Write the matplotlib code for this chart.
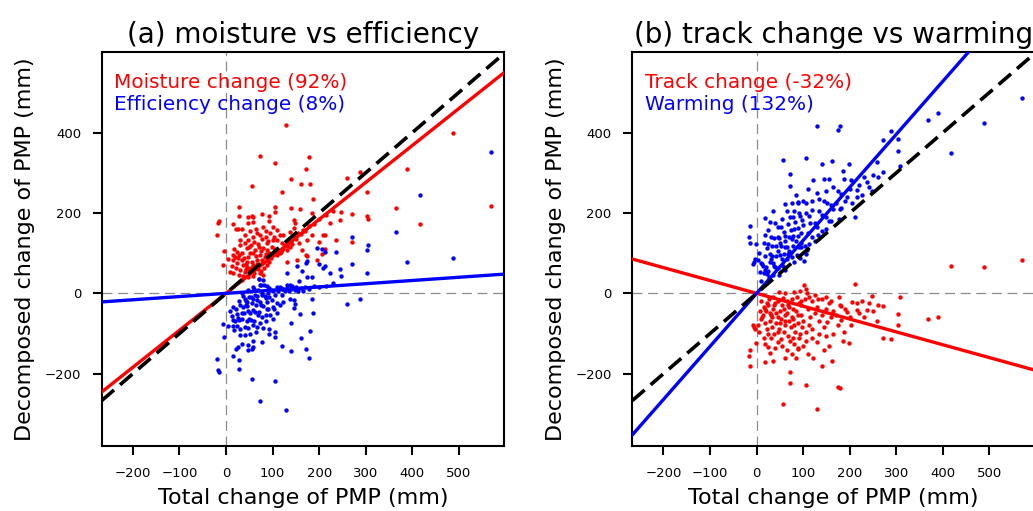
import numpy as np
import matplotlib
matplotlib.use("Agg")
import matplotlib.pyplot as plt

# ---------------- data ----------------
# Panel (a): total PMP change and its moisture component (efficiency = total - moisture)
total_a = [128, 487, 72, 179, 106, 171, 389, 288, 259, 140,
           180, 160, 55, 302, 120, 186, 570, 106, 28, 139,
           366, 158, 246, 106, 270, 185, 27, 55, 92, 302,
           305, 47, 77, -15, -18, 16, 417, 59, 92, 146,
           244, 224, 148, 79, 145, 26, 21, 138, 209, 213,
           184, -20, 59, 77, 30, 47, 100, 109, 236, 270,
           199, 156, 87, 120, 123, 138, 142, 70, 53,
           44, 23, -4, 112, 130, 171, 207, 86, 35, 59,
           48, 4, 152, 196, 96, 130, -6, 16, 24, 34,
           43, 55, 66, 77, 82, 22, 30, 41, 50, 61,
           72, 9, 16, 27, 37, 48, 59, 70, 80, 34,
           44, 62, 12, 73, 87, 98, 80, 109, 123, 66,
           41, 52, 174, 163, 174, 48, 57,
           20, 28, 38, 52, 64, 75, 83, 92, 100, 105,
           115, 18, 30, 40, 60, 68, 85, 95, 100, 36,
           46, 57, 68, 76, 88, 92, 26, 14, 62, 50,
           35, 65, 85, 72, 90, 102, 115, 126, 135, 148,
           110, 120, 132, 150, 160, 170, 190, 200, 215, 230,
           118, 140, 155, 165, 178, 42, 54, 66, 78, 90, 213]
moisture = [419, 399, 341, 339, 325, 310, 310, 301, 286, 284,
            273, 271, 267, 252, 252, 234, 218, 215, 216, 213,
            213, 209, 203, 203, 197, 199, 193, 193, 193, 193,
            184, 189, 198, 180, 174, 173, 173, 178, 180, 183,
            183, 174, 174, 166, 162, 160, 159, 152, 145, 145,
            144, 144, 139, 136, 134, 133, 133, 132, 132, 129,
            127, 126, 125, 125, 112, 116, 123, 116, 120,
            112, 104, 105, 105, 109, 95, 97, 97, 100, 100,
            91, 85, 83, 83, 87, 79, 71, 83, 76, 83,
            73, 79, 83, 75, 62, 62, 58, 54, 58, 51,
            50, 54, 50, 46, 43, 40, 42, 35, 46, 33,
            66, 66, 68, 95, 108, 115, 112, 157, 145, 149,
            145, 154, 133, 108, 93, 176, 191,
            90, 95, 88, 100, 92, 105, 90, 100, 95, 110,
            100, 110, 120, 125, 128, 122, 140, 150, 165, 70,
            78, 70, 60, 55, 70, 78, 88, 95, 108, 115,
            160, 160, 155, 145, 130, 140, 145, 120, 130, 140,
            95, 108, 118, 135, 147, 155, 172, 184, 196, 205,
            104, 128, 150, 158, 168, 60, 64, 72, 82, 88, 111]

# Panel (b): total PMP change and its track component (warming = total - track)
total_b = [570, 488, 418, 390, 368, 307, 303, 304, 289, 272,
           271, 259, 247, 242, 236, 226, 216, 216, 212, 205,
           203, 199, 186, 187, 181, 176, 181, 161, 140, 122,
           174, 180, 107, 72, 72, 57, 129, 36, 17, 29,
           24, 19, -1, -15, -17, -14, -7, 4, 52, 72,
           79, 88, 106, 102, 107, 94, 131, 180, 194, 89,
           -3, -5, 48, 60, 80, 109,
           10, 15, 20, 25, 30, 35, 40, 45, 50, 55,
           60, 65, 70, 75, 80, 85, 90, 95, 100, 110,
           115, 120, 125, 130, 140, 150, 155, 160, 165, 12,
           18, 22, 28, 33, 38, 42, 48, 53, 58, 62,
           68, 73, 78, 83, 88, 93, 98, 105, 112, 118,
           8, 14, 26, 36, 46, 56, 66, 76, 86, 96,
           104, 134, 145, 152, 170, 175, 190, 30, 45, 55,
           65, 40, 24, 16, 6, 10, 60, 70, 50, 42,
           32, 22, 95, 112, 125, 140, 150, 160, 120, 135,
           100, 90, 80, 75, 62, 85, 110, 150, 155, 46,
           58, 68, 78, 88, 38, 28, 18, 130, 145, 165,
           200, 220, 230, 250, 260]
track = [84, 65, 69, -60, -64, -9, -51, -80, -114, -110,
         -31, -69, -7, -23, -41, -19, -25, -41, 23, -21,
         -80, -123, -118, -97, -66, -8, -31, -168, -181, -160,
         -232, -236, -229, -224, -195, -276, -288, -168, -171, -149,
         -134, -127, -123, -141, -157, -181, -80, -80, -113, -118,
         -110, -137, -118, 22, 10, 6, -15, -29, -47, -138,
         -89, -84, 3, 2, 3, 1,
         -20, -35, -45, -30, -55, -40, -25, -60, -45, -30,
         -70, -50, -35, -60, -80, -45, -25, -55, -70, -40,
         -60, -20, -50, -35, -55, -40, -25, -60, -45, -60,
         -75, -90, -70, -85, -100, -75, -90, -65, -95, -80,
         -105, -85, -65, -95, -75, -100, -85, -95, -80, -90,
         -45, -55, -15, -10, -18, -12, -20, -15, -10, -30,
         -15, -70, -85, -72, -55, -80, -40, -110, -120, -130,
         -140, -135, -100, -110, -95, -65, -55, -70, -75, -50,
         -60, -25, -20, -10, -5, -15, -10, -20, -110, -100,
         -130, -110, -125, -150, -160, -160, -150, -105, -130, -95,
         -40, -30, -40, -55, -30, -50, -40, -120, -140, -100,
         -60, -50, -60, -45, -30]

# contribution shares (slopes of the fitted lines)
shares_a = [0.92, 0.08]      # moisture, efficiency
shares_b = [-0.32, 1.32]     # track change, warming
labels_a = ["Moisture change (92%)", "Efficiency change (8%)"]
labels_b = ["Track change (-32%)", "Warming (132%)"]
titles = ["(a) moisture vs efficiency", "(b) track change vs warming"]

total_a = np.array(total_a, float)
moisture = np.array(moisture, float)
efficiency = total_a - moisture
total_b = np.array(total_b, float)
track = np.array(track, float)
warming = total_b - track

# ---------------- figure ----------------
W, H = 1033, 511
fig = plt.figure(figsize=(W / 100, H / 100), dpi=100)
plt.rcParams['font.family'] = ['DejaVu Sans']

XLIM = (-267, 597)
YLIM = (-380, 600)
RED, BLUE = '#ff0000', '#0000ff'

ax_a = fig.add_axes([101.7 / W, 1 - 446 / H, 402.3 / W, 393.7 / H])
ax_b = fig.add_axes([632.3 / W, 1 - 446 / H, 402.3 / W, 393.7 / H])

panels = [
    (ax_a, total_a, moisture, efficiency, shares_a, labels_a, titles[0]),
    (ax_b, total_b, track, warming, shares_b, labels_b, titles[1]),
]

for ax, tot, comp_r, comp_b, shares, labs, title in panels:
    ax.set_xlim(*XLIM)
    ax.set_ylim(*YLIM)
    # reference lines
    ax.axhline(0, color='0.55', lw=0.9, ls=(0, (8, 4.5)), zorder=1)
    ax.axvline(0, color='0.55', lw=0.9, ls=(0, (8, 4.5)), zorder=1)
    # scatter
    ax.scatter(tot, comp_r, s=10, color=RED, linewidths=0, zorder=2)
    ax.scatter(tot, comp_b, s=10, color=BLUE, linewidths=0, zorder=2)
    # fitted lines through origin
    xx = np.array(XLIM, float)
    ax.plot(xx, shares[0] * xx, color=RED, lw=2.4, zorder=3)
    ax.plot(xx, shares[1] * xx, color=BLUE, lw=2.4, zorder=3)
    ax.plot(xx, xx, color='black', lw=2.6, ls=(0, (4.5, 2.2)), zorder=4)
    # annotation
    ax.text(0.031, 0.910, labs[0], color=RED, fontsize=14.4,
            transform=ax.transAxes, va='baseline', ha='left', zorder=5)
    ax.text(0.031, 0.853, labs[1], color=BLUE, fontsize=14.4,
            transform=ax.transAxes, va='baseline', ha='left', zorder=5)
    ax.set_title(title, fontsize=20, pad=7)
    ax.set_xlabel("Total change of PMP (mm)", fontsize=16, labelpad=6)
    ax.set_ylabel("Decomposed change of PMP (mm)", fontsize=16, labelpad=7)
    ax.set_xticks([-200, -100, 0, 100, 200, 300, 400, 500])
    ax.set_yticks([-200, 0, 200, 400])
    ax.tick_params(axis='both', which='major', labelsize=9.5, length=6.8,
                   width=1.5, pad=8, direction='out')
    for sp in ax.spines.values():
        sp.set_linewidth(1.5)

fig.savefig("out.png", dpi=100)
